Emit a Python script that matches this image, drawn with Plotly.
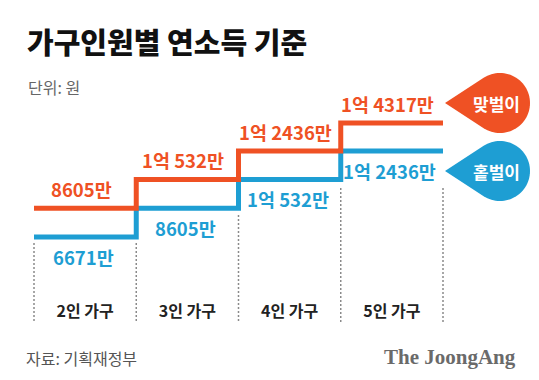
import math
import plotly.graph_objects as go

# ---- data (unit: 만원) ----
categories = ["2인 가구", "3인 가구", "4인 가구", "5인 가구"]
dual_income = [8605, 10532, 12436, 14317]     # 맞벌이
single_income = [6671, 8605, 10532, 12436]    # 홑벌이
series_names = ["맞벌이", "홑벌이"]

title_text = "가구인원별 연소득 기준"
unit_text = "단위: 원"
source_text = "자료: 기획재정부"
brand_text = "The JoongAng"

ORANGE = "#EF5124"
BLUE = "#1E9ED3"
FONT = "Noto Sans CJK KR"
PAGE_OFF = 8           # default body margin of the page
W, H = 539 - PAGE_OFF, 380 - PAGE_OFF


def px(x):
    return (x - PAGE_OFF) / W


def py(y):
    return 1 - (y - PAGE_OFF) / H


def fmt(v):
    if v >= 10000:
        return f"{v // 10000}억 {v % 10000}만"
    return f"{v}만"


edges = list(range(len(categories) + 1))


def step_y(vals):
    return vals + [vals[-1]]


fig = go.Figure()
fig.add_trace(go.Scatter(x=edges, y=step_y(single_income), mode="lines",
                         line=dict(color=BLUE, width=5, shape="hv"),
                         name=series_names[1], hoverinfo="skip"))
fig.add_trace(go.Scatter(x=edges, y=step_y(dual_income), mode="lines",
                         line=dict(color=ORANGE, width=5, shape="hv"),
                         name=series_names[0], hoverinfo="skip"))

annotations = []
for i, v in enumerate(dual_income):
    annotations.append(dict(x=i + 0.5, y=v, xref="x", yref="y", text=fmt(v),
                            showarrow=False, xshift=-4, yshift=19,
                            xanchor="center", yanchor="middle",
                            font=dict(family=FONT, size=18.5, color=ORANGE, weight="bold")))
for i, v in enumerate(single_income):
    annotations.append(dict(x=i + 0.5, y=v, xref="x", yref="y", text=fmt(v),
                            showarrow=False, xshift=-2, yshift=-20,
                            xanchor="center", yanchor="middle",
                            font=dict(family=FONT, size=18.5, color=BLUE, weight="bold")))

# title, unit, footer
annotations += [
    dict(x=px(25), y=py(41), xref="paper", yref="paper", text=title_text, showarrow=False,
         xanchor="left", yanchor="middle",
         font=dict(family=FONT, size=29, color="#111111", weight=900)),
    dict(x=px(26), y=py(87), xref="paper", yref="paper", text=unit_text, showarrow=False,
         xanchor="left", yanchor="middle",
         font=dict(family=FONT, size=16, color="#666666")),
    dict(x=px(24), y=py(358), xref="paper", yref="paper", text=source_text, showarrow=False,
         xanchor="left", yanchor="middle",
         font=dict(family=FONT, size=16, color="#555555")),
    dict(x=px(518), y=py(357), xref="paper", yref="paper", text=brand_text, showarrow=False,
         xanchor="right", yanchor="middle",
         font=dict(family="Liberation Serif", size=21, color="#6a6a6a", weight="bold")),
]

shapes = []


def teardrop(cx, cy, r, tipx, color):
    d = cx - tipx
    theta = math.acos(r / d)
    a_start = math.pi - theta
    a_end = -(math.pi - theta)
    n = 60
    path = f"M {px(tipx)},{py(cy)} "
    for k in range(n + 1):
        a = a_start + (a_end - a_start) * k / n
        x = cx + r * math.cos(a)
        y = cy - r * math.sin(a)
        path += f"L {px(x)},{py(y)} "
    path += "Z"
    return dict(type="path", xref="paper", yref="paper", path=path,
                fillcolor=color, line=dict(width=0), layer="above")


shapes.append(teardrop(500, 103, 30, 445, ORANGE))
shapes.append(teardrop(500, 171, 30, 445, BLUE))
annotations.append(dict(x=px(496), y=py(103), xref="paper", yref="paper", text=series_names[0],
                        showarrow=False, xanchor="center", yanchor="middle",
                        font=dict(family=FONT, size=17, color="white", weight="bold")))
annotations.append(dict(x=px(496), y=py(171), xref="paper", yref="paper", text=series_names[1],
                        showarrow=False, xanchor="center", yanchor="middle",
                        font=dict(family=FONT, size=17, color="white", weight="bold")))

# dotted dividers
divider_top = [243, 243, 215, 188, 188]
for e, top in zip(edges, divider_top):
    shapes.append(dict(type="line", xref="x", yref="paper", x0=e, x1=e,
                       y0=py(top), y1=py(322),
                       line=dict(color="#8a8a8a", width=1.5, dash="2px,2px"), layer="below"))

# axis placement (pixel targets: x=0 -> 34px, x=4 -> 443px; 6671 -> 237px)
x_left_px, x_right_px = 34 - 0.2 * 102.25, 443 + 0.2 * 102.25
fig.update_layout(
    width=W, height=H,
    margin=dict(l=0, r=0, t=0, b=0),
    paper_bgcolor="white", plot_bgcolor="white",
    showlegend=False,
    annotations=annotations,
    shapes=shapes,
    xaxis=dict(range=[-0.2, 4.2], domain=[px(x_left_px), px(x_right_px)],
               tickvals=[i + 0.5 for i in range(len(categories))], ticktext=categories,
               showgrid=False, zeroline=False, showline=False, ticks="",
               ticklabelstandoff=2,
               tickfont=dict(family=FONT, size=16, color="#222222", weight="bold"),
               fixedrange=True),
    yaxis=dict(range=[2580, 17000], domain=[py(298), py(83)],
               visible=False, showgrid=False, zeroline=False, fixedrange=True),
)

fig.write_html("out.html")
